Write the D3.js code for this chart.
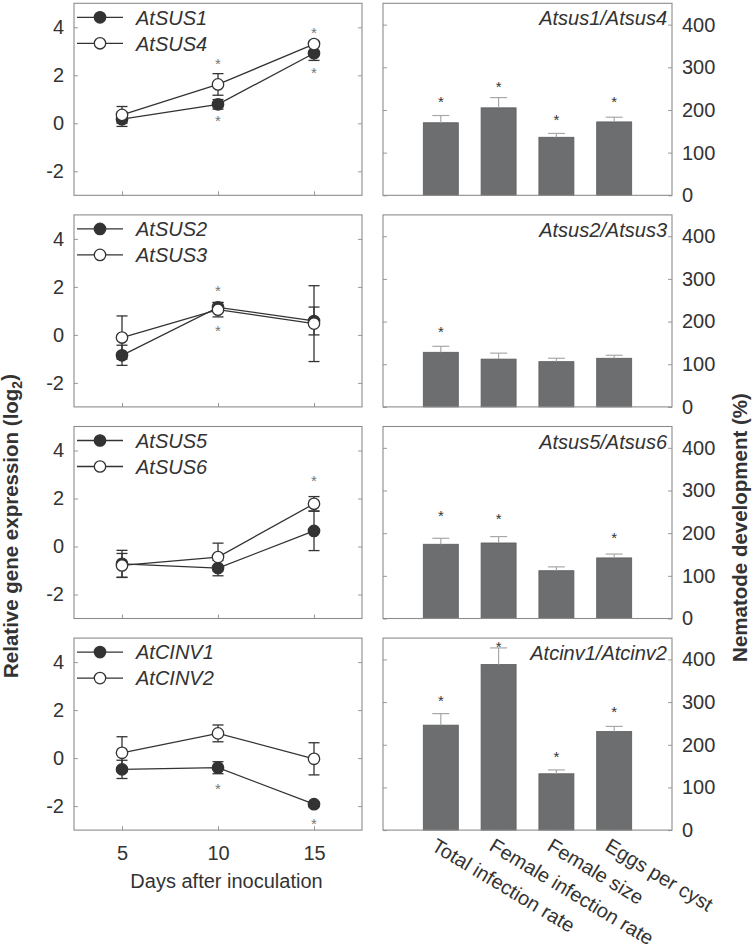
<!DOCTYPE html>
<html><head><meta charset="utf-8">
<script src="https://cdn.jsdelivr.net/npm/d3@7"></script>
<style>body{margin:0;background:#fff} svg{display:block}</style>
</head><body>
<script>
// ---------- data ----------
const days = [5, 10, 15];
const dayTicks = [5, 10, 15];
const exprTicks = [-2, 0, 2, 4];
const devTicks = [0, 100, 200, 300, 400];

const filledGenes = ["AtSUS1", "AtSUS2", "AtSUS5", "AtCINV1"];
const openGenes   = ["AtSUS4", "AtSUS3", "AtSUS6", "AtCINV2"];

const filledMean = [[0.17, 0.79, 2.92], [-0.85, 1.15, 0.58], [-0.72, -0.90, 0.65], [-0.47, -0.40, -1.92]];
const filledErr  = [[0.30, 0.20, 0.30], [0.42, 0.20, 0.58], [0.56, 0.32, 0.82], [0.38, 0.25, 0.10]];
const openMean   = [[0.35, 1.62, 3.30], [-0.11, 1.05, 0.47], [-0.79, -0.44, 1.78], [0.22, 1.03, -0.03]];
const openErr    = [[0.35, 0.45, 0.12], [0.90, 0.30, 1.58], [0.50, 0.58, 0.30], [0.67, 0.35, 0.67]];

// significance marks on expression panels: [day, value]
const exprStars = [
  [[10, 2.60], [10, 0.23], [15, 3.93], [15, 2.25]],
  [[10, 1.97], [10, 0.33]],
  [[15, 2.89]],
  [[10, -1.12], [15, -2.58]]
];

const traits  = ["Total infection rate", "Female infection rate", "Female size", "Eggs per cyst"];
const mutants = ["Atsus1/Atsus4", "Atsus2/Atsus3", "Atsus5/Atsus6", "Atcinv1/Atcinv2"];
const devMean = [[170, 205, 136, 172], [128, 112, 106, 114], [174, 177, 112, 142], [246, 388, 132, 231]];
const devErr  = [[17, 24, 9, 11], [14, 14, 8, 7], [14, 15, 9, 9], [27, 39, 9, 12]];
const devStar = [[226, 261, 184, 226], [184, null, null, null], [249, 241, null, 196], [311, 437, 179, 285]];

// ---------- layout ----------
const W = 755, H = 945;
const FONT = "'Liberation Sans', Arial, Helvetica, sans-serif";
const TXT = "#333";
const FRAME = "#8c8c8c";
const TICK = "#9a9a9a";
const L = {x0: 74, x1: 362}, R = {x0: 383, x1: 672};
const panelH = 192;
const panelTop = i => 3.3 + i * 211.6;

const svg = d3.select("body").append("svg")
  .attr("width", W).attr("height", H)
  .style("font-family", FONT);

const x = d3.scaleLinear().domain([2.5, 17.5]).range([L.x0, L.x1]);
const bx = d3.scalePoint().domain(traits).range([R.x0, R.x1]).padding(1);

function styleAxis(g, labels) {
  g.select(".domain").remove();
  g.attr("font-size", null).attr("font-family", null);
  g.selectAll(".tick line").attr("stroke", TICK);
  g.selectAll(".tick text").attr("fill", TXT).style("font-size", "20px");
  if (!labels) g.selectAll(".tick text").remove();
}

for (let i = 0; i < 4; i++) {
  const t = panelTop(i), b = t + panelH;

  // ===== expression panel =====
  const y = d3.scaleLinear().domain([-3, 5]).range([b, t]);
  const g = svg.append("g");

  g.append("g").attr("transform", `translate(${L.x0},0)`)
    .call(d3.axisLeft(y).tickValues(exprTicks).tickSizeInner(-4).tickSizeOuter(0)
      .tickPadding(10).tickFormat(d => String(d)))
    .call(a => styleAxis(a, true));
  g.append("g").attr("transform", `translate(${L.x1},0)`)
    .call(d3.axisRight(y).tickValues(exprTicks).tickSizeInner(-4).tickSizeOuter(0))
    .call(a => styleAxis(a, false));
  g.append("g").attr("transform", `translate(0,${b})`)
    .call(d3.axisBottom(x).tickValues(dayTicks).tickSizeInner(-4).tickSizeOuter(0).tickPadding(16))
    .call(a => styleAxis(a, i === 3));

  g.append("rect").attr("x", L.x0).attr("y", t).attr("width", L.x1 - L.x0).attr("height", panelH)
    .attr("fill", "none").attr("stroke", FRAME).attr("stroke-width", 1.1);

  const series = [
    {mean: filledMean[i], err: filledErr[i], filled: true, name: filledGenes[i]},
    {mean: openMean[i], err: openErr[i], filled: false, name: openGenes[i]}
  ];
  const line = d3.line().x((d, k) => x(days[k])).y(d => y(d));
  series.forEach(s => {
    g.append("path").attr("d", line(s.mean)).attr("fill", "none")
      .attr("stroke", "#333").attr("stroke-width", 1.3);
    const eb = g.append("g").attr("stroke", "#333").attr("stroke-width", 1.3);
    s.mean.forEach((m, k) => {
      const cx = x(days[k]);
      eb.append("line").attr("x1", cx).attr("x2", cx).attr("y1", y(m - s.err[k])).attr("y2", y(m + s.err[k]));
      [m - s.err[k], m + s.err[k]].forEach(v =>
        eb.append("line").attr("x1", cx - 5.5).attr("x2", cx + 5.5).attr("y1", y(v)).attr("y2", y(v)));
    });
  });
  series.forEach(s => {
    g.selectAll(null).data(s.mean).join("circle")
      .attr("cx", (d, k) => x(days[k])).attr("cy", d => y(d)).attr("r", 5.7)
      .attr("fill", s.filled ? "#333" : "#fff").attr("stroke", "#333").attr("stroke-width", 1.3);
  });

  // legend
  series.forEach((s, k) => {
    const ly = t + 14 + k * 26;
    g.append("line").attr("x1", 77).attr("x2", 123).attr("y1", ly).attr("y2", ly)
      .attr("stroke", "#333").attr("stroke-width", 1.3);
    g.append("circle").attr("cx", 100).attr("cy", ly).attr("r", 5.7)
      .attr("fill", s.filled ? "#333" : "#fff").attr("stroke", "#333").attr("stroke-width", 1.3);
    g.append("text").attr("x", 136).attr("y", ly).attr("dy", "0.36em")
      .attr("font-size", 20).attr("font-style", "italic").attr("fill", TXT).text(s.name);
  });

  // asterisks
  g.selectAll(null).data(exprStars[i]).join("text")
    .attr("x", d => x(d[0])).attr("y", d => y(d[1])).attr("dy", "0.57em")
    .attr("text-anchor", "middle").attr("font-size", 15).attr("fill", "#777").text("*");

  // ===== nematode development panel =====
  const y2 = d3.scaleLinear().domain([0, 450]).range([b, t]);
  const h = svg.append("g");

  h.append("g").attr("transform", `translate(${R.x0},0)`)
    .call(d3.axisLeft(y2).tickValues(devTicks).tickSizeInner(-4).tickSizeOuter(0))
    .call(a => styleAxis(a, false));
  h.append("g").attr("transform", `translate(${R.x1},0)`)
    .call(d3.axisRight(y2).tickValues(devTicks).tickSizeInner(-4).tickSizeOuter(0).tickPadding(10))
    .call(a => styleAxis(a, true));
  h.append("g").attr("transform", `translate(0,${b})`)
    .call(d3.axisBottom(bx).tickSizeInner(-4).tickSizeOuter(0))
    .call(a => styleAxis(a, false));

  const bw = 35;
  h.selectAll(null).data(devMean[i]).join("rect")
    .attr("x", (d, k) => bx(traits[k]) - bw / 2).attr("width", bw)
    .attr("y", d => y2(d)).attr("height", d => b - y2(d))
    .attr("fill", "#6d6e70").attr("stroke", "#5a5b5d").attr("stroke-width", 0.8);

  const eb2 = h.append("g").attr("stroke", "#a8a8a8").attr("stroke-width", 1.2);
  devMean[i].forEach((m, k) => {
    const cx = bx(traits[k]);
    const top = y2(m + devErr[i][k]);
    eb2.append("line").attr("x1", cx).attr("x2", cx).attr("y1", y2(m)).attr("y2", top);
    eb2.append("line").attr("x1", cx - 8.5).attr("x2", cx + 8.5).attr("y1", top).attr("y2", top);
  });

  h.append("rect").attr("x", R.x0).attr("y", t).attr("width", R.x1 - R.x0).attr("height", panelH)
    .attr("fill", "none").attr("stroke", FRAME).attr("stroke-width", 1.1);

  h.selectAll(null).data(devStar[i].map((v, k) => [k, v]).filter(d => d[1] != null)).join("text")
    .attr("x", d => bx(traits[d[0]])).attr("y", d => y2(d[1])).attr("dy", "0.57em")
    .attr("text-anchor", "middle").attr("font-size", 15).attr("fill", "#333").text("*");

  h.append("text").attr("x", R.x1 - 5).attr("y", t + 22)
    .attr("text-anchor", "end").attr("font-size", 20).attr("font-style", "italic")
    .attr("fill", TXT).text(mutants[i]);

  if (i === 3) {
    h.selectAll(null).data(traits).join("text")
      .attr("transform", d => `translate(${bx(d) - 10.5},${b + 19.5}) rotate(31)`)
      .attr("font-size", 20).attr("fill", TXT).text(d => d);
  }
}

// axis titles
svg.append("text").attr("x", 226.5).attr("y", 888)
  .attr("text-anchor", "middle").attr("font-size", 20).attr("fill", TXT)
  .text("Days after inoculation");

const lt = svg.append("text").attr("transform", "translate(17.5,526) rotate(-90)")
  .attr("text-anchor", "middle").attr("font-size", 20.5).attr("font-weight", "bold").attr("fill", TXT);
lt.append("tspan").text("Relative gene expression (log");
lt.append("tspan").attr("font-size", 14).attr("dy", "0.3em").text("2");
lt.append("tspan").attr("dy", "-0.3em").text(")");

svg.append("text").attr("transform", "translate(747,527.5) rotate(-90)")
  .attr("text-anchor", "middle").attr("font-size", 20.5).attr("font-weight", "bold").attr("fill", TXT)
  .text("Nematode development (%)");
</script>
</body></html>
